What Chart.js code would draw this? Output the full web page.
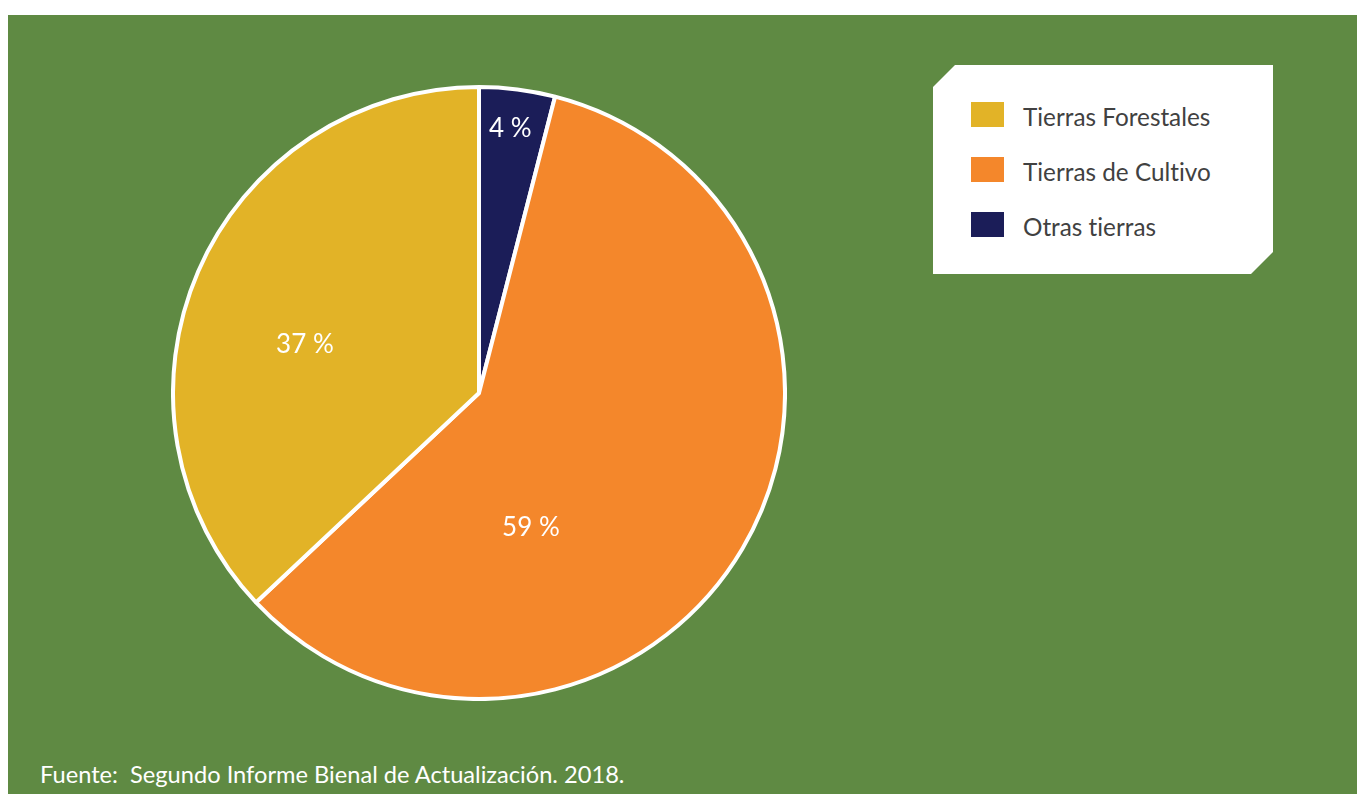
<!DOCTYPE html>
<html lang="es">
<head>
<meta charset="utf-8">
<title>Uso de la tierra</title>
<script src="https://cdn.jsdelivr.net/npm/chart.js@4"></script>
<style>
  html, body { margin: 0; padding: 0; background: #ffffff; }
  body { width: 1357px; height: 794px; position: relative; overflow: hidden; font-family: Lato, "Open Sans", sans-serif;
         font-variant-ligatures: none; font-feature-settings: "liga" 0, "dlig" 0; }
  #panel { position: absolute; left: 8px; top: 15px; width: 1349px; height: 779px; background: #5F8A43; }
  #pie { position: absolute; left: 171px; top: 85px; width: 616px; height: 616px; }
  #legend {
    position: absolute; left: 933px; top: 65px; width: 340px; height: 209px; background: #ffffff;
    clip-path: polygon(22px 0, 100% 0, 100% calc(100% - 22px), calc(100% - 22px) 100%, 0 100%, 0 22px);
  }
  .item { position: absolute; left: 38px; height: 25px; display: flex; align-items: center; }
  .sw { width: 33px; height: 25px; margin-right: 19px; flex: none; }
  .lb { font-size: 24.3px; color: #414141; white-space: nowrap; line-height: 25px; position: relative; top: 2px; }
  #source { position: absolute; left: 40px; top: 759px; font-size: 24px; color: #ffffff; white-space: nowrap;
            transform: scaleX(0.985); transform-origin: 0 0; }
</style>
</head>
<body>
<div id="panel"></div>
<canvas id="pie" width="616" height="616"></canvas>
<div id="legend"></div>
<div id="source">Fuente:&nbsp; Segundo Informe Bienal de Actualización. 2018.</div>
<script>
// Land-use categories, in legend order
const categories = ['Tierras Forestales', 'Tierras de Cultivo', 'Otras tierras'];
const shares = [37, 59, 4];              // percent of total area
const colors = ['#E2B327', '#F4872B', '#1B1D58'];

// The pie runs clockwise from 12 o'clock in the reverse of the legend order
const order = [2, 1, 0];
const pieLabels = order.map(i => categories[i]);
const pieValues = order.map(i => shares[i]);
const pieColors = order.map(i => colors[i]);

// Where each value label sits inside its slice: fraction along the arc and of the radius
const labelPlacement = [
  { along: 0.47, radial: 0.87 },
  { along: 0.68, radial: 0.47 },
  { along: 0.44, radial: 0.59 }
];

const sliceLabels = {
  id: 'sliceLabels',
  afterDatasetsDraw(chart) {
    const { ctx } = chart;
    const meta = chart.getDatasetMeta(0);
    ctx.save();
    ctx.fillStyle = '#ffffff';
    ctx.font = '26px Lato, "Open Sans", sans-serif';
    ctx.textAlign = 'center';
    ctx.textBaseline = 'middle';
    meta.data.forEach((arc, i) => {
      const p = arc.getProps(['x', 'y', 'startAngle', 'endAngle', 'outerRadius'], true);
      const place = labelPlacement[i];
      const a = p.startAngle + (p.endAngle - p.startAngle) * place.along;
      const r = p.outerRadius * place.radial;
      const v = chart.data.datasets[0].data[i];
      ctx.fillText(v + ' %', p.x + Math.cos(a) * r, p.y + Math.sin(a) * r);
    });
    ctx.restore();
  }
};

new Chart(document.getElementById('pie'), {
  type: 'pie',
  data: {
    labels: pieLabels,
    datasets: [{
      data: pieValues,
      backgroundColor: pieColors,
      borderColor: '#ffffff',
      borderWidth: 4,
      hoverOffset: 0
    }]
  },
  options: {
    responsive: false,
    animation: false,
    layout: { padding: 0 },
    plugins: { legend: { display: false }, tooltip: { enabled: false } }
  },
  plugins: [sliceLabels]
});

// Legend box
const legend = document.getElementById('legend');
categories.forEach((name, i) => {
  const item = document.createElement('div');
  item.className = 'item';
  item.style.top = (37 + i * 55) + 'px';
  const sw = document.createElement('div');
  sw.className = 'sw';
  sw.style.background = colors[i];
  const lb = document.createElement('div');
  lb.className = 'lb';
  lb.textContent = name;
  item.appendChild(sw);
  item.appendChild(lb);
  legend.appendChild(item);
});
</script>
</body>
</html>
